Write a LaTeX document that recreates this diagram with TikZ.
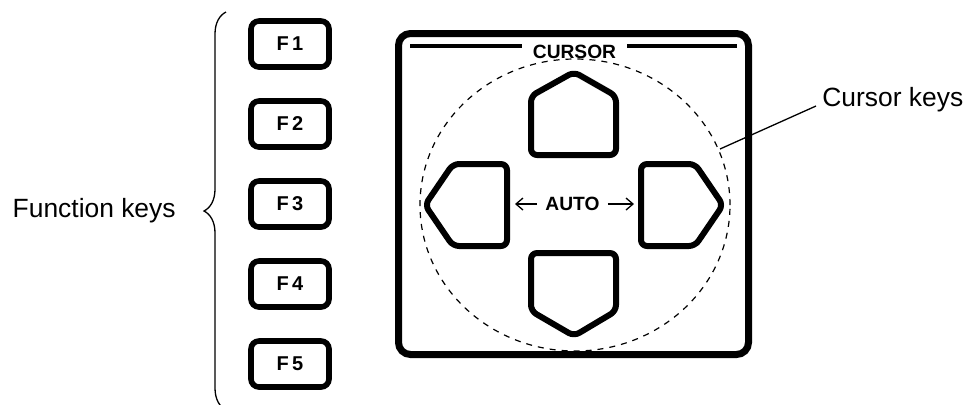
\documentclass[tikz,border=0pt]{standalone}
\usepackage{fontspec}
\setmainfont{Liberation Sans}
\usetikzlibrary{calc}
\usetikzlibrary{arrows.meta}
\usetikzlibrary{decorations.pathreplacing}

\tikzset{
    fkey/.style={draw, line width=2.8pt, rounded corners=4pt,
        minimum width=39pt, minimum height=23pt, inner sep=0pt,
        font=\bfseries\fontsize{10}{10}\selectfont},
    arrowkey/.style={line width=3pt, rounded corners=3pt, line join=round},
    keylabel/.style={inner sep=0pt, font=\fontsize{13.2}{15}\selectfont},
    panellabel/.style={font=\bfseries\fontsize{9.6}{9}\selectfont},
    thinline/.style={line width=0.65pt},
}

\begin{document}
\begin{tikzpicture}[x=0.5pt, y=-0.5pt]
            \useasboundingbox (0,0) rectangle (969,404);
            % Function keys
            \foreach \i in {1,...,5}
                \node[fkey] (f\i) at (290, {44+80*(\i-1)}) {F\,\i};
            \draw[thinline, decorate, decoration={brace, amplitude=11pt}]
                (226,410) -- (226,12);
            \node[keylabel, anchor=east] (fklabel) at (176,211) {Function keys};

            % Cursor panel
            \draw[line width=3.5pt, rounded corners=6pt] (398.5,33.5) rectangle (748.5,354.5);
            \node[panellabel, inner sep=0pt] (cursor) at (574.5,52) {CURSOR};
            \draw[line width=2pt] (410,45.5) -- (522,45.5);
            \draw[line width=2pt] (627,45.5) -- (737,45.5);

            % Arrow keys
            \draw[arrowkey] (531,155) -- (531,96) -- (574,72) -- (616,96) -- (616,155) -- cycle;
            \draw[arrowkey] (531,253) -- (616,253) -- (616,311) -- (574,336) -- (531,311) -- cycle;
            \draw[arrowkey] (507,164) -- (507,246) -- (453,246) -- (425,205) -- (453,164) -- cycle;
            \draw[arrowkey] (641,164) -- (695,164) -- (723,205) -- (695,246) -- (641,246) -- cycle;

            % AUTO
            \node[panellabel, inner xsep=4pt, inner ysep=0pt] (auto) at (572.5,204) {AUTO};
            \coordinate (lkey) at (515,204);
            \coordinate (rkey) at (634,204);
            \draw[thinline, -{Straight Barb[length=3.5pt, width=6pt]}] (auto.west) -- (lkey);
            \draw[thinline, -{Straight Barb[length=3.5pt, width=6pt]}] (auto.east) -- (rkey);

            % Cursor keys outline and label
            \draw[line width=0.6pt, dash pattern=on 3pt off 3pt] (575,205) ellipse [x radius=77.5pt, y radius=73pt];
            \coordinate (ckpoint) at (720,149);
            \node[keylabel, anchor=west] (cklabel) at (822,100) {Cursor keys};
            \draw[thinline] (ckpoint) -- ($(cklabel.west)+(-6,6)$);
        \end{tikzpicture}
\end{document}
